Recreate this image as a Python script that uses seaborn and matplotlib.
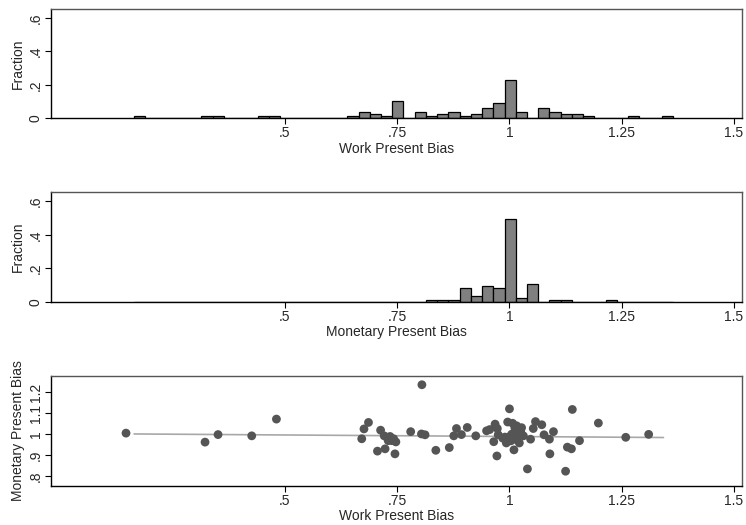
import numpy as np
import pandas as pd
import matplotlib
matplotlib.use("Agg")
import matplotlib.pyplot as plt
import seaborn as sns

sns.set_style("ticks")
plt.rcParams["font.family"] = ["Liberation Sans", "DejaVu Sans"]

## DATA
bin_width = 0.025
bin_start = 0.164
n_bins = 48

# Work present bias histogram: bin index -> fraction
work_bins = [0, 6, 7, 11, 12, 19, 20, 21, 22, 23, 25, 26, 27, 28, 29, 30,
             31, 32, 33, 34, 36, 37, 38, 39, 40, 44, 47]
work_frac = [0.012, 0.012, 0.012, 0.012, 0.012, 0.012, 0.036, 0.024, 0.012, 0.100,
             0.036, 0.012, 0.024, 0.036, 0.012, 0.024, 0.062, 0.088, 0.226, 0.036,
             0.062, 0.036, 0.024, 0.024, 0.012, 0.012, 0.012]

# Monetary present bias histogram
money_bins = [26, 27, 28, 29, 30, 31, 32, 33, 34, 35, 37, 38, 42]
money_frac = [0.012, 0.012, 0.012, 0.084, 0.036, 0.092, 0.080, 0.494, 0.024, 0.106,
              0.012, 0.012, 0.012]

# Scatter: work present bias vs monetary present bias
work_pb = [0.146, 0.322, 0.351, 0.426, 0.481, 0.671, 0.676, 0.686, 0.706, 0.713,
           0.721, 0.723, 0.730, 0.734, 0.738, 0.745, 0.747, 0.780, 0.804, 0.805,
           0.812, 0.836, 0.866, 0.876, 0.882, 0.893, 0.906, 0.925, 0.949, 0.956,
           0.965, 0.968, 0.972, 0.973, 0.975, 0.985, 0.990, 0.993, 0.996, 1.000,
           1.001, 1.003, 1.007, 1.010, 1.012, 1.014, 1.016, 1.016, 1.020, 1.022,
           1.027, 1.031, 1.040, 1.047, 1.053, 1.058, 1.072, 1.077, 1.089, 1.090,
           1.098, 1.125, 1.129, 1.138, 1.140, 1.156, 1.198, 1.259, 1.310,
           1.005, 1.018, 0.995, 1.025, 0.742, 0.727]
money_pb = [1.005, 0.962, 0.998, 0.992, 1.072, 0.978, 1.025, 1.056, 0.919, 1.019,
            0.992, 0.930, 0.969, 0.989, 0.969, 0.906, 0.963, 1.012, 1.001, 1.236,
            0.997, 0.923, 0.936, 0.992, 1.027, 0.998, 1.032, 0.992, 1.016, 1.022,
            0.964, 1.048, 0.896, 1.027, 0.997, 0.981, 0.986, 0.958, 1.058, 1.121,
            0.989, 0.968, 1.052, 0.925, 1.030, 1.005, 1.040, 0.973, 1.021, 0.958,
            1.031, 0.992, 0.834, 0.976, 1.027, 1.060, 1.045, 0.997, 0.976, 0.906,
            1.012, 0.823, 0.938, 0.930, 1.118, 0.969, 1.053, 0.985, 0.999,
            1.000, 1.010, 0.975, 1.015, 0.978, 0.985]

# Fitted line end points
fit_x = [0.164, 1.343]
fit_y = [1.001, 0.984]

x_ticks = [0.5, 0.75, 1.0, 1.25, 1.5]
x_tick_labels = [".5", ".75", "1", "1.25", "1.5"]
frac_ticks = [0, 0.2, 0.4, 0.6]
frac_tick_labels = ["0", ".2", ".4", ".6"]
mon_ticks = [0.8, 0.9, 1.0, 1.1, 1.2]
mon_tick_labels = [".8", ".9", "1", "1.1", "1.2"]

## STYLE
BAR_COLOR = "#808080"
DOT_COLOR = "#555555"
LINE_COLOR = "#a8a8a8"
FS = 10
XLIM = (-0.021, 1.518)

edges = list(bin_start + bin_width * np.arange(n_bins + 1))
centers = bin_start + bin_width * (np.arange(n_bins) + 0.5)

fig = plt.figure(figsize=(7.46, 5.25), dpi=100)
ax1 = fig.add_axes([0.0684, 0.7752, 0.9263, 0.2076])
ax2 = fig.add_axes([0.0684, 0.4253, 0.9263, 0.2084])
ax3 = fig.add_axes([0.0684, 0.0749, 0.9263, 0.2090])


def style_axis(ax, yticks, ylabels):
    ax.set_xlim(*XLIM)
    ax.set_xticks(x_ticks)
    ax.set_xticklabels(x_tick_labels, fontsize=FS)
    ax.set_yticks(yticks)
    ax.set_yticklabels(ylabels, fontsize=FS, rotation=90, va="center")
    ax.tick_params(length=4, width=0.8, color="black", pad=2)
    for side in ["left", "bottom"]:
        ax.spines[side].set_color("black")
        ax.spines[side].set_linewidth(1.0)
    for side in ["top", "right"]:
        ax.spines[side].set_visible(True)
        ax.spines[side].set_color("#555555")
        ax.spines[side].set_linewidth(1.0)


for ax, bins, frac, label in [(ax1, work_bins, work_frac, "Work Present Bias"),
                              (ax2, money_bins, money_frac, "Monetary Present Bias")]:
    hist_df = pd.DataFrame({"x": centers[bins], "frac": frac})
    sns.histplot(data=hist_df, x="x", weights="frac", bins=edges, ax=ax,
                 color=BAR_COLOR, edgecolor="black", linewidth=0.9, alpha=1)
    ax.set_ylim(0, 0.655)
    style_axis(ax, frac_ticks, frac_tick_labels)
    ax.set_xlabel(label, fontsize=FS, labelpad=1)
    ax.set_ylabel("Fraction", fontsize=FS, labelpad=3)

scatter_df = pd.DataFrame({"work": work_pb, "money": money_pb})
sns.lineplot(x=fit_x, y=fit_y, ax=ax3, color=LINE_COLOR, linewidth=1.2)
sns.scatterplot(data=scatter_df, x="work", y="money", ax=ax3, color=DOT_COLOR,
                s=40, edgecolor="none", zorder=3)
ax3.set_ylim(0.754, 1.278)
style_axis(ax3, mon_ticks, mon_tick_labels)
ax3.set_xlabel("Work Present Bias", fontsize=FS, labelpad=1)
ax3.set_ylabel("Monetary Present Bias", fontsize=FS, labelpad=3)

fig.savefig("out.png", dpi=100)
